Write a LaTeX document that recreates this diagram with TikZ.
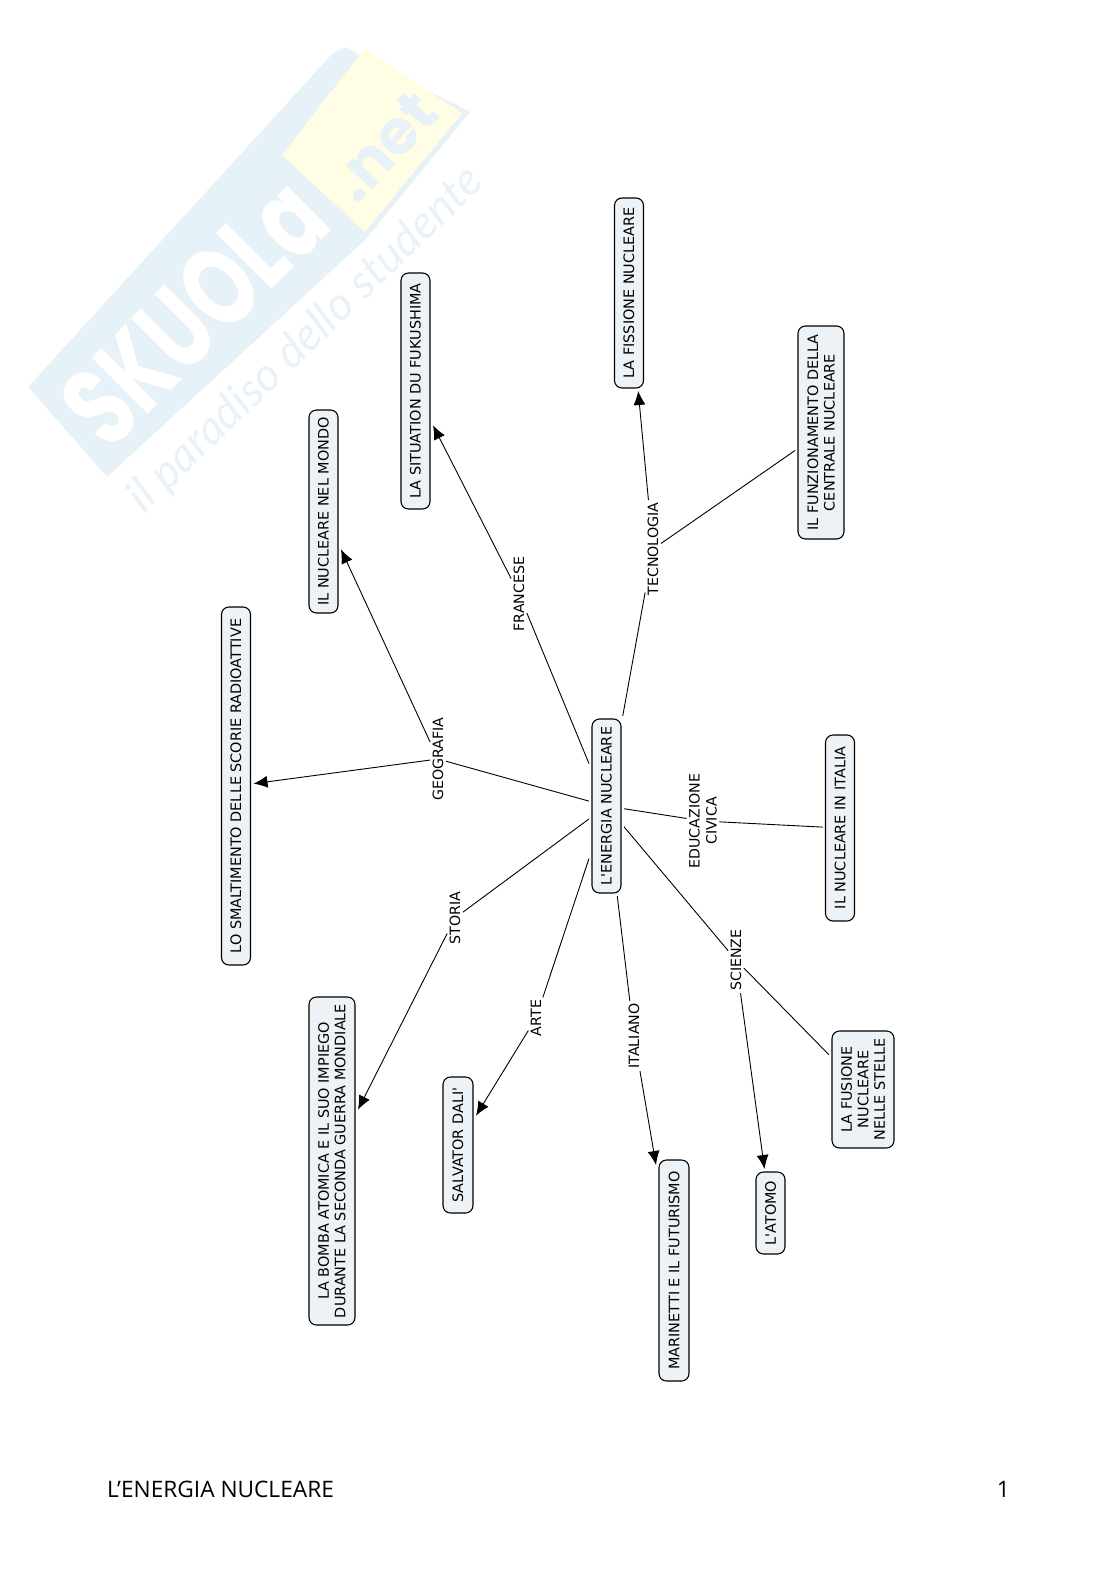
\documentclass[tikz,border=0pt]{standalone}
\usepackage{fontspec}
\setmainfont{DejaVu Sans}
\newfontfamily\boxfont{DejaVu Sans}
\newfontfamily\footfont{Open Sans}
\newfontfamily\markfont{Poppins}
\newfontfamily\mottofont{Lato}
\usetikzlibrary{arrows.meta}
\definecolor{boxfill}{HTML}{EDF2F6}
\definecolor{markblue}{HTML}{E7F1F8}
\definecolor{markyellow}{HTML}{FFFDE4}
\definecolor{markscript}{HTML}{E9F2F8}
\tikzset{
  concept/.style={draw=black,line width=1.1pt,fill=boxfill,rounded corners=7.5pt,rotate=90,
    inner sep=0pt,outer sep=3pt,align=center,font=\boxfont\fontsize{14.4}{16.5}\selectfont},
  linklabel/.style={rotate=90,inner sep=0.5pt,outer sep=2pt,align=center,font=\boxfont\fontsize{14.2}{17}\selectfont},
  plainlink/.style={line width=0.9pt,draw=black},
  arrowlink/.style={line width=0.9pt,draw=black,-{Latex[length=14pt,width=12pt]}},
  footer/.style={font=\footfont\fontsize{22.7}{24}\selectfont,inner sep=0pt}
}
\begin{document}
\begin{tikzpicture}[x=1pt,y=-1pt]
\useasboundingbox (0,0) rectangle (1116,1579);
% watermark
\fill[markblue] (28,387) -- (333,53) -- (345,47) -- (470,112) -- (365,240) -- (107,477) -- cycle;
\fill[markyellow] (282,155) -- (365,48) -- (462,113) -- (365,232) -- cycle;
\node[rotate=45,xscale=0.72,text=white,font=\markfont\bfseries\fontsize{112}{112}\selectfont,inner sep=0pt] (skuola) at (194,312) {SKUOLa};
\node[rotate=47,text=markblue,font=\markfont\bfseries\fontsize{62}{62}\selectfont,inner sep=0pt] (dotnet) at (384,146) {.net};
\node[rotate=44,text=markscript,font=\mottofont\itshape\fontsize{46}{46}\selectfont,inner sep=0pt] (motto) at (306,340) {il paradiso dello studente};
% concepts
\node[concept,minimum width=174pt,minimum height=29pt] (central) at (606.5,806) {L'ENERGIA NUCLEARE};
\node[concept,minimum width=236pt,minimum height=29pt] (fuku) at (415.5,391) {LA SITUATION DU FUKUSHIMA};
\node[concept,minimum width=203pt,minimum height=29pt] (mondo) at (323.5,511.5) {IL NUCLEARE NEL MONDO};
\node[concept,minimum width=190pt,minimum height=29pt] (fiss) at (629,293) {LA FISSIONE NUCLEARE};
\node[concept,minimum width=213pt,minimum height=46pt] (funz) at (821,432.5) {IL FUNZIONAMENTO DELLA\\CENTRALE NUCLEARE};
\node[concept,minimum width=358pt,minimum height=29pt] (smalt) at (236,786) {LO SMALTIMENTO DELLE SCORIE RADIOATTIVE};
\node[concept,minimum width=186pt,minimum height=29pt] (italia) at (840,828) {IL NUCLEARE IN ITALIA};
\node[concept,minimum width=328pt,minimum height=46pt] (bomba) at (332,1161) {LA BOMBA ATOMICA E IL SUO IMPIEGO\\DURANTE LA SECONDA GUERRA MONDIALE};
\node[concept,minimum width=136pt,minimum height=30pt] (dali) at (458,1145) {SALVATOR DALI'};
\node[concept,minimum width=221pt,minimum height=30pt] (mari) at (674,1270.5) {MARINETTI E IL FUTURISMO};
\node[concept,minimum width=82pt,minimum height=29pt] (atomo) at (770.5,1213) {L'ATOMO};
\node[concept,minimum width=117pt,minimum height=62pt] (fus) at (863,1089.5) {LA FUSIONE\\NUCLEARE\\NELLE STELLE};
% link labels
\node[linklabel] (lfr) at (519,594) {FRANCESE};
\node[linklabel] (ltec) at (653,549) {TECNOLOGIA};
\node[linklabel] (lgeo) at (438,759) {GEOGRAFIA};
\node[linklabel] (lsto) at (455,918) {STORIA};
\node[linklabel] (lart) at (536,1018) {ARTE};
\node[linklabel] (lita) at (634,1036) {ITALIANO};
\node[linklabel] (lsci) at (736,960) {SCIENZE};
\node[linklabel] (ledu) at (703,821) {EDUCAZIONE\\CIVICA};
% connectors
\draw[plainlink] (central) -- (lfr);
\draw[arrowlink] (lfr) -- (fuku);
\draw[plainlink] (central) -- (ltec);
\draw[arrowlink] (ltec) -- (fiss);
\draw[plainlink] (ltec) -- (funz);
\draw[plainlink] (central) -- (lgeo);
\draw[arrowlink] (lgeo) -- (mondo);
\draw[arrowlink] (lgeo) -- (smalt);
\draw[plainlink] (central) -- (lsto);
\draw[arrowlink] (lsto) -- (bomba);
\draw[plainlink] (central) -- (lart);
\draw[arrowlink] (lart) -- (dali);
\draw[plainlink] (central) -- (lita);
\draw[arrowlink] (lita) -- (mari);
\draw[plainlink] (central) -- (lsci);
\draw[arrowlink] (lsci) -- (atomo);
\draw[plainlink] (lsci) -- (fus);
\draw[plainlink] (central) -- (ledu);
\draw[plainlink] (ledu) -- (italia);
% footer
\node[footer,anchor=west] (foottitle) at (107,1489) {L’ENERGIA NUCLEARE};
\node[footer,anchor=east] (footnum) at (1010,1489) {1};
\end{tikzpicture}
\end{document}
